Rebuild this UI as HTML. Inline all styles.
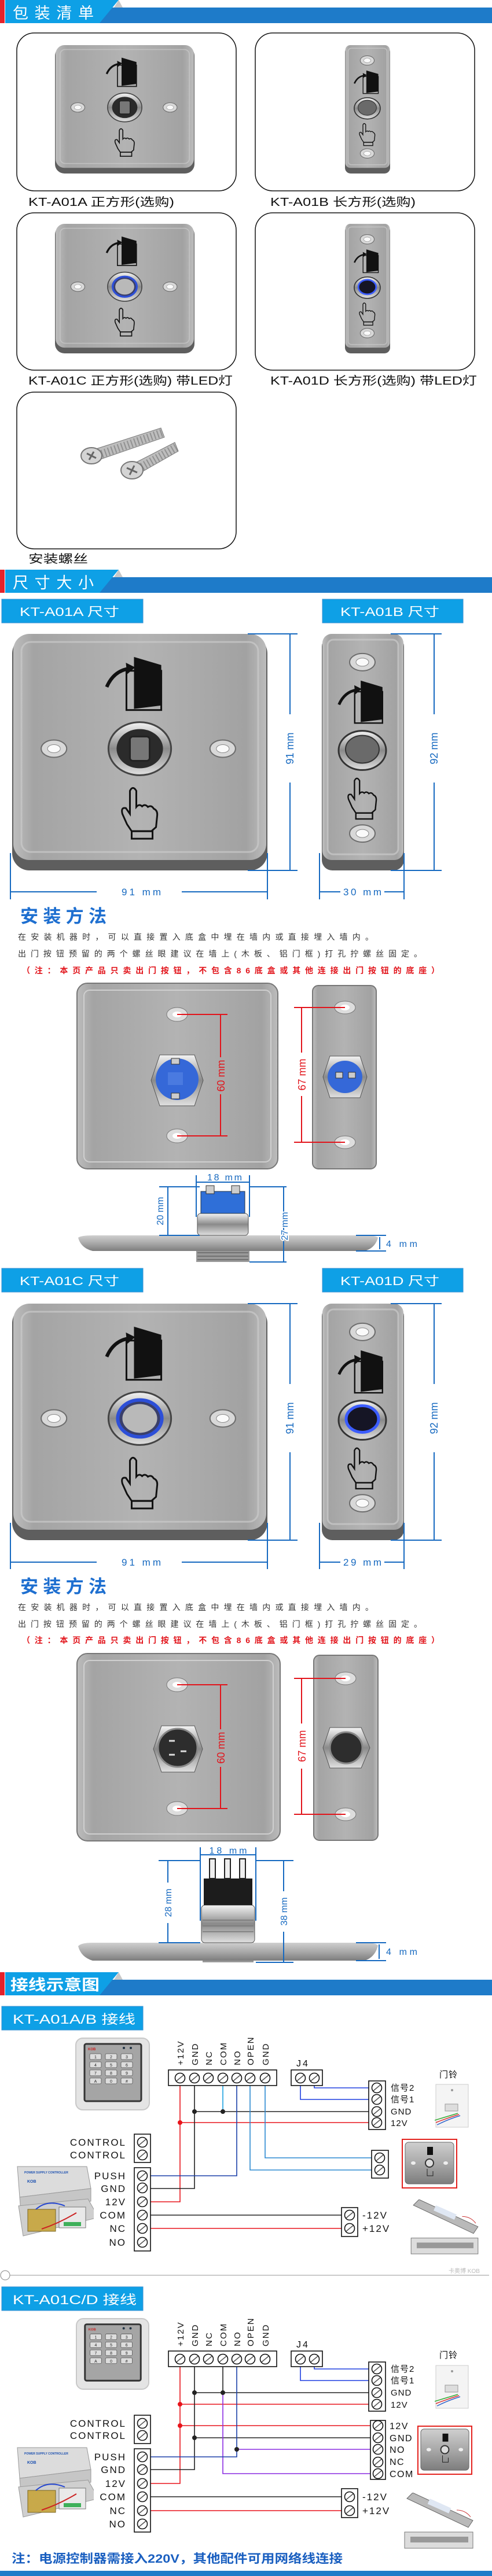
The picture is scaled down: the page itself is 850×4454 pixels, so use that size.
<!DOCTYPE html>
<html><head><meta charset="utf-8"><style>
html,body{margin:0;padding:0;background:#fff;}
svg{display:block;}
text{font-family:"Liberation Sans","Noto Sans CJK SC",sans-serif;}
</style></head><body>
<svg width="850" height="4454" viewBox="0 0 850 4454" xmlns="http://www.w3.org/2000/svg">
<defs>
<linearGradient id="steel" x1="0" y1="0" x2="1" y2="0">
<stop offset="0" stop-color="#bdbdbd"/><stop offset="0.08" stop-color="#a4a4a4"/><stop offset="0.5" stop-color="#b3b3b3"/><stop offset="0.92" stop-color="#a2a2a2"/><stop offset="1" stop-color="#bcbcbc"/>
</linearGradient>
<linearGradient id="steelv" x1="0" y1="0" x2="0" y2="1">
<stop offset="0" stop-color="#cfcfcf"/><stop offset="0.5" stop-color="#a9a9a9"/><stop offset="1" stop-color="#7d7d7d"/>
</linearGradient>
<linearGradient id="chrome" x1="0" y1="0" x2="0" y2="1">
<stop offset="0" stop-color="#f4f4f4"/><stop offset="0.5" stop-color="#8a8a8a"/><stop offset="1" stop-color="#e0e0e0"/>
</linearGradient>
<g id="hole"><ellipse cx="0" cy="0" rx="22" ry="15" fill="#d8d8d8" stroke="#6d6d6d" stroke-width="2"/><ellipse cx="0" cy="0" rx="11" ry="7" fill="#fafafa" stroke="#888"/></g>
<g id="door">
<path d="M163 92 Q175 64 202 60" stroke="#111" stroke-width="6" fill="none"/>
<polygon points="196,50 212,58 198,70" fill="#111"/>
<rect x="197" y="64" width="60" height="68" fill="none" stroke="#111" stroke-width="3"/>
<polygon points="210,40 257,54 257,124 210,130" fill="#111"/>
</g>
<g id="hand">
<path d="M198 330 L190 312 Q187 300 196 302 L203 312 L203 272 Q208 262 214 272 L214 300 Q219 294 224 299 Q229 294 234 300 Q240 296 244 303 Q251 306 250 315 L248 335 L240 342 L206 342 Z" fill="none" stroke="#111" stroke-width="3"/>
<rect x="206" y="342" width="36" height="13" fill="none" stroke="#111" stroke-width="3"/>
</g>
<symbol id="sqbase" viewBox="0 0 440 410" preserveAspectRatio="none">
<rect x="0" y="4" width="440" height="406" rx="30" fill="#5e5e5e"/>
<rect x="2" y="0" width="436" height="392" rx="28" fill="url(#steel)"/>
<rect x="16" y="14" width="408" height="364" rx="16" fill="none" stroke="#cbcbcb" stroke-width="3" opacity="0.7"/>
<use href="#hole" x="72" y="199"/><use href="#hole" x="363" y="199"/>
<use href="#door"/><use href="#hand"/>
</symbol>
<symbol id="sqA" viewBox="0 0 440 410" preserveAspectRatio="none">
<use href="#sqbase" width="440" height="410"/>
<ellipse cx="220" cy="199" rx="54" ry="46" fill="url(#chrome)" stroke="#444" stroke-width="3"/>
<ellipse cx="220" cy="199" rx="40" ry="34" fill="#2b2b2b"/>
<rect x="203" y="178" width="34" height="42" rx="5" fill="#777" stroke="#222" stroke-width="3"/>
</symbol>
<symbol id="sqC" viewBox="0 0 440 410" preserveAspectRatio="none">
<use href="#sqbase" width="440" height="410"/>
<ellipse cx="220" cy="199" rx="54" ry="46" fill="url(#chrome)" stroke="#444" stroke-width="3"/>
<ellipse cx="220" cy="199" rx="38" ry="32" fill="#3a3f6a" stroke="#2d4fd8" stroke-width="6"/>
<ellipse cx="220" cy="199" rx="30" ry="25" fill="#b9b9b9"/>
</symbol>
<symbol id="tlbase" viewBox="0 0 142 410" preserveAspectRatio="none">
<rect x="0" y="4" width="142" height="406" rx="18" fill="#5e5e5e"/>
<rect x="1" y="0" width="140" height="392" rx="16" fill="url(#steel)"/>
<rect x="10" y="10" width="122" height="372" rx="10" fill="none" stroke="#cbcbcb" stroke-width="3" opacity="0.7"/>
<use href="#hole" x="70" y="49"/><use href="#hole" x="70" y="346"/>
<use href="#door" transform="translate(28 81) scale(0.8) translate(-161 -40)"/>
<use href="#hand" transform="translate(46 248) scale(0.8) translate(-190 -264)"/>
</symbol>
<symbol id="tlB" viewBox="0 0 142 410" preserveAspectRatio="none">
<use href="#tlbase" width="142" height="410"/>
<ellipse cx="70" cy="202" rx="41" ry="34" fill="url(#chrome)" stroke="#333" stroke-width="3"/>
<ellipse cx="70" cy="200" rx="29" ry="24" fill="#6a6a6a" stroke="#333" stroke-width="2"/>
</symbol>
<symbol id="tlD" viewBox="0 0 142 410" preserveAspectRatio="none">
<use href="#tlbase" width="142" height="410"/>
<ellipse cx="70" cy="202" rx="41" ry="34" fill="url(#chrome)" stroke="#333" stroke-width="3"/>
<ellipse cx="70" cy="200" rx="28" ry="23" fill="#151525" stroke="#3b5cff" stroke-width="5"/>
</symbol>
<g id="tc"><circle r="8.5" fill="#fff" stroke="#111" stroke-width="1.6"/><line x1="-6" y1="5" x2="6" y2="-5" stroke="#555" stroke-width="1.5"/></g>
<symbol id="keypad" viewBox="0 0 129 126">
<rect x="1" y="1" width="127" height="124" rx="12" fill="#e4e4e4" stroke="#c8c8c8" stroke-width="2"/>
<rect x="16" y="11" width="98" height="99" rx="3" fill="#a5a5a5" stroke="#333" stroke-width="3"/>
<text x="22" y="22" font-size="6" fill="#c22" font-weight="bold">KOB</text>
<circle cx="84" cy="18" r="2" fill="#234"/><circle cx="96" cy="18" r="2" fill="#234"/>
<g fill="#ddd" stroke="#555" stroke-width="0.8">
<rect x="25" y="28" width="20" height="10" rx="2"/><rect x="52" y="28" width="20" height="10" rx="2"/><rect x="79" y="28" width="20" height="10" rx="2"/>
<rect x="25" y="42" width="20" height="10" rx="2"/><rect x="52" y="42" width="20" height="10" rx="2"/><rect x="79" y="42" width="20" height="10" rx="2"/>
<rect x="25" y="56" width="20" height="10" rx="2"/><rect x="52" y="56" width="20" height="10" rx="2"/><rect x="79" y="56" width="20" height="10" rx="2"/>
<rect x="25" y="70" width="20" height="10" rx="2"/><rect x="52" y="70" width="20" height="10" rx="2"/><rect x="79" y="70" width="20" height="10" rx="2"/>
</g>
<g font-size="7" fill="#222" text-anchor="middle"><text x="35" y="36">1</text><text x="62" y="36">2</text><text x="89" y="36">3</text><text x="35" y="50">4</text><text x="62" y="50">5</text><text x="89" y="50">6</text><text x="35" y="64">7</text><text x="62" y="64">8</text><text x="89" y="64">9</text><text x="35" y="78">A</text><text x="62" y="78">0</text><text x="89" y="78">#</text></g>
</symbol>
<symbol id="psu" viewBox="0 0 150 126">
<polygon points="18,2 138,2 145,40 22,55" fill="#dcdcdc" stroke="#999"/>
<polygon points="22,55 145,40 145,62 24,80" fill="#c6c6c6" stroke="#999"/>
<text x="30" y="14" font-size="5" fill="#1a4fb0" font-weight="bold">POWER SUPPLY CONTROLLER</text>
<text x="35" y="30" font-size="7" fill="#1a4fb0" font-weight="bold">KOB</text>
<polygon points="20,70 140,58 158,90 28,122" fill="#cfcfcf" stroke="#999"/>
<rect x="36" y="76" width="48" height="38" fill="#c8a94a" stroke="#7a6520"/>
<rect x="90" y="72" width="46" height="36" fill="#e9e9e9" stroke="#777"/>
<rect x="98" y="98" width="30" height="7" fill="#3fb05a"/>
<path d="M50 76 Q70 58 100 70" stroke="#2345d0" stroke-width="2" fill="none"/>
<path d="M60 110 Q90 100 120 82" stroke="#c22" stroke-width="2" fill="none"/>
</symbol>
<symbol id="bell" viewBox="0 0 60 78">
<rect x="2" y="2" width="56" height="74" fill="#f4f4f4" stroke="#ccc"/>
<circle cx="30" cy="12" r="2" fill="#999"/>
<rect x="18" y="36" width="22" height="12" fill="#ddd" stroke="#999"/>
<path d="M0 64 Q20 58 40 52" stroke="#3a3" stroke-width="1.5" fill="none"/>
<path d="M2 68 Q22 60 42 54" stroke="#d33" stroke-width="1.5" fill="none"/>
<path d="M4 72 Q24 62 44 56" stroke="#36c" stroke-width="1.5" fill="none"/>
</symbol>
<symbol id="exitimg" viewBox="0 0 96 86">
<rect x="1" y="1" width="94" height="84" fill="#fff" stroke="#e3201c" stroke-width="2"/>
<rect x="6" y="6" width="84" height="72" rx="6" fill="url(#steelv)" stroke="#666"/>
<ellipse cx="20" cy="42" rx="4" ry="3" fill="#eee"/><ellipse cx="76" cy="42" rx="4" ry="3" fill="#eee"/>
<rect x="44" y="14" width="10" height="14" fill="#111"/>
<circle cx="48" cy="42" r="7" fill="#ddd" stroke="#333" stroke-width="2"/>
<path d="M44 52 L44 64 L54 64 L54 56" fill="none" stroke="#222"/>
</symbol>
<symbol id="locks" viewBox="0 0 120 100">
<polygon points="4,10 14,0 118,48 110,60" fill="#b9b9b9" stroke="#666"/>
<rect x="40" y="18" width="40" height="10" fill="#dfe7f3" transform="rotate(24 60 23)"/>
<path d="M90 30 Q105 30 114 42" stroke="#c33" fill="none"/>
<rect x="0" y="68" width="118" height="28" fill="#dcdcdc" stroke="#777"/>
<rect x="10" y="76" width="100" height="10" fill="#999"/>
</symbol>
</defs>

<!-- HEADER 1 -->
<rect x="150" y="13" width="700" height="27" fill="#1e7bc9"/>
<polygon points="9,0 205,0 172,40 9,40" fill="#0ea0e6"/>
<polygon points="205,0 212,13 197,13" fill="#c8c8c8"/>
<rect x="0" y="0" width="8" height="40" fill="#e4222a"/>
<text x="22" y="32" font-size="27" fill="#fff" textLength="140" lengthAdjust="spacing">包装清单</text>

<!-- packing boxes -->
<rect x="29" y="57" width="379" height="273" rx="30" fill="#fff" stroke="#111" stroke-width="1.5"/>
<rect x="441" y="57" width="379" height="273" rx="30" fill="#fff" stroke="#111" stroke-width="1.5"/>
<use href="#sqA" x="95" y="78" width="241" height="222"/>
<use href="#tlB" x="596" y="78" width="78" height="222"/>
<text x="49" y="356" font-size="20" fill="#111" textLength="252" lengthAdjust="spacingAndGlyphs">KT-A01A 正方形(选购)</text>
<text x="467" y="356" font-size="20" fill="#111" textLength="251" lengthAdjust="spacingAndGlyphs">KT-A01B 长方形(选购)</text>
<rect x="29" y="368" width="379" height="272" rx="30" fill="#fff" stroke="#111" stroke-width="1.5"/>
<rect x="441" y="368" width="379" height="272" rx="30" fill="#fff" stroke="#111" stroke-width="1.5"/>
<use href="#sqC" x="95" y="387" width="241" height="224"/>
<use href="#tlD" x="596" y="387" width="78" height="224"/>
<text x="49" y="665" font-size="20" fill="#111" textLength="353" lengthAdjust="spacingAndGlyphs">KT-A01C 正方形(选购) 带LED灯</text>
<text x="467" y="665" font-size="20" fill="#111" textLength="357" lengthAdjust="spacingAndGlyphs">KT-A01D 长方形(选购) 带LED灯</text>
<rect x="29" y="678" width="379" height="271" rx="30" fill="#fff" stroke="#111" stroke-width="1.5"/>
<!-- screws -->
<g>
<polygon points="160,778 278,740 284,756 168,796" fill="#bdbdbd" stroke="#777"/>
<line x1="170" y1="787" x2="281" y2="748" stroke="#666" stroke-width="14" stroke-dasharray="2 4" opacity="0.5"/>
<ellipse cx="158" cy="788" rx="18" ry="14" fill="#d4d4d4" stroke="#777" stroke-width="2"/>
<path d="M150 784 L166 792 M154 795 L162 781" stroke="#666" stroke-width="3"/>
<polygon points="230,802 302,765 308,780 238,820" fill="#bdbdbd" stroke="#777"/>
<line x1="240" y1="810" x2="305" y2="773" stroke="#666" stroke-width="14" stroke-dasharray="2 4" opacity="0.5"/>
<ellipse cx="228" cy="813" rx="19" ry="15" fill="#d4d4d4" stroke="#777" stroke-width="2"/>
<path d="M219 809 L237 817 M224 821 L232 805" stroke="#666" stroke-width="3"/>
</g>
<text x="49" y="973" font-size="20" fill="#111" textLength="103" lengthAdjust="spacingAndGlyphs">安装螺丝</text>

<!-- HEADER 2 -->
<rect x="150" y="998" width="700" height="27" fill="#1e7bc9"/>
<polygon points="9,985 205,985 172,1025 9,1025" fill="#0ea0e6"/>
<polygon points="205,985 212,998 197,998" fill="#c8c8c8"/>
<rect x="0" y="985" width="8" height="40" fill="#e4222a"/>
<text x="22" y="1017" font-size="27" fill="#fff" textLength="140" lengthAdjust="spacing">尺寸大小</text>

<!-- subheaders -->
<g font-size="21" fill="#fff">
<rect x="3" y="1036" width="244" height="41" fill="#0ea0e6" stroke="#3a8fd0"/>
<text x="34" y="1065" textLength="172" lengthAdjust="spacingAndGlyphs">KT-A01A 尺寸</text>
<rect x="557" y="1036" width="243" height="41" fill="#0ea0e6" stroke="#3a8fd0"/>
<text x="588" y="1065" textLength="171" lengthAdjust="spacingAndGlyphs">KT-A01B 尺寸</text>
<rect x="3" y="2193" width="244" height="41" fill="#0ea0e6" stroke="#3a8fd0"/>
<text x="34" y="2222" textLength="172" lengthAdjust="spacingAndGlyphs">KT-A01C 尺寸</text>
<rect x="557" y="2193" width="243" height="41" fill="#0ea0e6" stroke="#3a8fd0"/>
<text x="588" y="2222" textLength="171" lengthAdjust="spacingAndGlyphs">KT-A01D 尺寸</text>
</g>

<!-- big plates -->
<use href="#sqA" x="21" y="1096" width="441" height="409"/>
<use href="#tlB" x="556" y="1096" width="142" height="409"/>
<use href="#sqC" x="21" y="2254" width="441" height="409"/>
<use href="#tlD" x="556" y="2254" width="142" height="409"/>

<!-- dimension lines -->
<g stroke="#1669c0" stroke-width="2" fill="none">
<path d="M428 1096 H514 M428 1505 H514 M501 1096 V1235 M501 1353 V1505"/>
<path d="M18 1475 V1555 M462 1475 V1555 M18 1542 H167 M314 1542 H462"/>
<path d="M675 1096 H763 M675 1505 H763 M750 1096 V1235 M750 1353 V1505"/>
<path d="M552 1475 V1555 M698 1475 V1555 M552 1542 H588 M664 1542 H698"/>
<path d="M428 2254 H514 M428 2663 H514 M501 2254 V2393 M501 2511 V2663"/>
<path d="M18 2633 V2713 M462 2633 V2713 M18 2701 H167 M314 2701 H462"/>
<path d="M675 2254 H763 M675 2663 H763 M750 2254 V2393 M750 2511 V2663"/>
<path d="M552 2633 V2713 M698 2633 V2713 M552 2701 H588 M664 2701 H698"/>
</g>
<g fill="#1669c0" font-size="17">
<text x="244" y="1548" text-anchor="middle" textLength="68" lengthAdjust="spacing">91 mm</text>
<text x="626" y="1548" text-anchor="middle" textLength="66" lengthAdjust="spacing">30 mm</text>
<text transform="translate(507 1294) rotate(-90)" text-anchor="middle" font-size="18">91 mm</text>
<text transform="translate(756 1294) rotate(-90)" text-anchor="middle" font-size="18">92 mm</text>
<text x="244" y="2707" text-anchor="middle" textLength="68" lengthAdjust="spacing">91 mm</text>
<text x="626" y="2707" text-anchor="middle" textLength="66" lengthAdjust="spacing">29 mm</text>
<text transform="translate(507 2452) rotate(-90)" text-anchor="middle" font-size="18">91 mm</text>
<text transform="translate(756 2452) rotate(-90)" text-anchor="middle" font-size="18">92 mm</text>
</g>

<!-- install text 1 -->
<text x="35" y="1595" font-size="31" font-weight="bold" fill="#1e6fd0" textLength="149" lengthAdjust="spacing">安装方法</text>
<text x="31" y="1625" font-size="14" fill="#333" textLength="614" lengthAdjust="spacing">在安装机器时，可以直接置入底盒中埋在墙内或直接埋入墙内。</text>
<text x="31" y="1654" font-size="14" fill="#333" textLength="698" lengthAdjust="spacing">出门按钮预留的两个螺丝眼建议在墙上(木板、铝门框)打孔拧螺丝固定。</text>
<text x="38" y="1683" font-size="14" font-weight="bold" fill="#e2141b" textLength="721" lengthAdjust="spacing">（注：本页产品只卖出门按钮，不包含86底盒或其他连接出门按钮的底座）</text>
<!-- install text 2 -->
<text x="35" y="2754" font-size="31" font-weight="bold" fill="#1e6fd0" textLength="149" lengthAdjust="spacing">安装方法</text>
<text x="31" y="2784" font-size="14" fill="#333" textLength="614" lengthAdjust="spacing">在安装机器时，可以直接置入底盒中埋在墙内或直接埋入墙内。</text>
<text x="31" y="2813" font-size="14" fill="#333" textLength="698" lengthAdjust="spacing">出门按钮预留的两个螺丝眼建议在墙上(木板、铝门框)打孔拧螺丝固定。</text>
<text x="38" y="2841" font-size="14" font-weight="bold" fill="#e2141b" textLength="721" lengthAdjust="spacing">（注：本页产品只卖出门按钮，不包含86底盒或其他连接出门按钮的底座）</text>

<!-- back plates A -->
<rect x="133" y="1700" width="347" height="321" rx="18" fill="url(#steel)" stroke="#777" stroke-width="2"/>
<rect x="145" y="1712" width="323" height="297" rx="10" fill="none" stroke="#cfcfcf" stroke-width="2"/>
<ellipse cx="306" cy="1754" rx="18" ry="12" fill="#ddd" stroke="#777"/><ellipse cx="306" cy="1754" rx="8" ry="5" fill="#fff"/>
<ellipse cx="306" cy="1964" rx="18" ry="12" fill="#ddd" stroke="#777"/><ellipse cx="306" cy="1964" rx="8" ry="5" fill="#fff"/>
<polygon points="261,1868 276,1824 336,1824 351,1868 336,1912 276,1912" fill="url(#chrome)" stroke="#555"/>
<ellipse cx="306" cy="1866" rx="37" ry="36" fill="#3568d8"/>
<rect x="296" y="1830" width="14" height="10" fill="#ccc" stroke="#333"/><rect x="296" y="1890" width="14" height="10" fill="#ccc" stroke="#333"/>
<rect x="290" y="1854" width="26" height="22" fill="#4a7ae0"/>
<rect x="540" y="1704" width="110" height="317" rx="10" fill="url(#steel)" stroke="#777" stroke-width="2"/>
<ellipse cx="596" cy="1742" rx="18" ry="11" fill="#ddd" stroke="#777"/><ellipse cx="596" cy="1742" rx="8" ry="5" fill="#fff"/>
<ellipse cx="596" cy="1975" rx="18" ry="11" fill="#ddd" stroke="#777"/><ellipse cx="596" cy="1975" rx="8" ry="5" fill="#fff"/>
<polygon points="558,1862 570,1826 622,1826 634,1862 622,1898 570,1898" fill="url(#chrome)" stroke="#555"/>
<ellipse cx="596" cy="1862" rx="30" ry="28" fill="#3568d8"/>
<rect x="580" y="1854" width="12" height="10" fill="#ccc" stroke="#333"/><rect x="602" y="1854" width="12" height="10" fill="#ccc" stroke="#333"/>
<g stroke="#e2141b" stroke-width="2" fill="none">
<path d="M306 1754 H393 M306 1964 H393 M381 1754 V1828 M381 1892 V1964"/>
<path d="M508 1742 H596 M508 1975 H596 M521 1742 V1820 M521 1895 V1975"/>
</g>
<g fill="#e2141b" font-size="18">
<text transform="translate(388 1860) rotate(-90)" text-anchor="middle">60 mm</text>
<text transform="translate(528 1858) rotate(-90)" text-anchor="middle">67 mm</text>
</g>

<!-- side view A -->
<rect x="339" y="2150" width="92" height="32" fill="#999"/>
<g stroke="#666" stroke-width="1.5"><line x1="341" y1="2166" x2="429" y2="2166"/><line x1="341" y1="2172" x2="429" y2="2172"/><line x1="341" y1="2178" x2="429" y2="2178"/></g>
<path d="M135 2140 Q140 2136 160 2136 L630 2136 Q650 2136 653 2140 Q648 2158 630 2163 L160 2163 Q140 2158 135 2140 Z" fill="url(#steelv)"/>
<rect x="341" y="2098" width="88" height="38" rx="6" fill="url(#chrome)" stroke="#555"/>
<rect x="347" y="2060" width="76" height="38" fill="#2f6fd8" stroke="#234"/>
<rect x="356" y="2050" width="14" height="14" fill="#ccc" stroke="#333"/><rect x="400" y="2050" width="14" height="14" fill="#ccc" stroke="#333"/>
<g stroke="#1669c0" stroke-width="2" fill="none">
<path d="M339 2032 V2104 M431 2032 V2104 M339 2044 H431"/>
<path d="M275 2052 H345 M275 2136 H345 M290 2052 V2136"/>
<path d="M431 2052 H495 M431 2182 H495 M490 2052 V2182"/>
<path d="M615 2136 H667 M615 2163 H667 M656 2139 V2160"/>
</g>
<g fill="#1669c0" font-size="16">
<text x="388" y="2041" text-anchor="middle" textLength="60" lengthAdjust="spacing">18 mm</text>
<text transform="translate(282 2094) rotate(-90)" text-anchor="middle">20 mm</text>
<text transform="translate(497 2120) rotate(-90)" text-anchor="middle" style="paint-order:stroke" stroke="#fff" stroke-width="4">27 mm</text>
<text x="667" y="2156" textLength="54" lengthAdjust="spacing">4 mm</text>
</g>

<!-- back plates C -->
<rect x="133" y="2859" width="351" height="324" rx="18" fill="url(#steel)" stroke="#777" stroke-width="2"/>
<rect x="145" y="2871" width="327" height="300" rx="10" fill="none" stroke="#cfcfcf" stroke-width="2"/>
<ellipse cx="306" cy="2913" rx="18" ry="12" fill="#ddd" stroke="#777"/><ellipse cx="306" cy="2913" rx="8" ry="5" fill="#fff"/>
<ellipse cx="306" cy="3127" rx="18" ry="12" fill="#ddd" stroke="#777"/><ellipse cx="306" cy="3127" rx="8" ry="5" fill="#fff"/>
<polygon points="265,3024 279,2984 336,2984 350,3024 336,3064 279,3064" fill="url(#chrome)" stroke="#555"/>
<ellipse cx="307" cy="3022" rx="34" ry="33" fill="#2d2d2d" stroke="#888" stroke-width="3"/>
<g stroke="#ddd" stroke-width="3"><line x1="292" y1="3010" x2="302" y2="3010"/><line x1="312" y1="3028" x2="322" y2="3028"/><line x1="292" y1="3034" x2="302" y2="3034"/></g>
<rect x="542" y="2862" width="111" height="320" rx="10" fill="url(#steel)" stroke="#777" stroke-width="2"/>
<ellipse cx="597" cy="2902" rx="18" ry="11" fill="#ddd" stroke="#777"/><ellipse cx="597" cy="2902" rx="8" ry="5" fill="#fff"/>
<ellipse cx="597" cy="3137" rx="18" ry="11" fill="#ddd" stroke="#777"/><ellipse cx="597" cy="3137" rx="8" ry="5" fill="#fff"/>
<polygon points="558,3022 570,2987 624,2987 639,3022 624,3057 570,3057" fill="url(#chrome)" stroke="#555"/>
<ellipse cx="598" cy="3022" rx="28" ry="27" fill="#2d2d2d" stroke="#888" stroke-width="3"/>
<g stroke="#e2141b" stroke-width="2" fill="none">
<path d="M306 2913 H393 M306 3127 H393 M381 2913 V2990 M381 3055 V3127"/>
<path d="M508 2902 H597 M508 3137 H597 M521 2902 V2980 M521 3058 V3137"/>
</g>
<g fill="#e2141b" font-size="18">
<text transform="translate(388 3022) rotate(-90)" text-anchor="middle">60 mm</text>
<text transform="translate(528 3019) rotate(-90)" text-anchor="middle">67 mm</text>
</g>
<!-- side view C -->
<rect x="350" y="3350" width="88" height="43" fill="#999"/>
<path d="M135 3365 Q140 3359 160 3359 L630 3359 Q650 3359 653 3364 Q648 3384 630 3390 L160 3390 Q140 3384 135 3365 Z" fill="url(#steelv)"/>
<rect x="348" y="3294" width="92" height="65" rx="6" fill="url(#chrome)" stroke="#555"/>
<g stroke="#777" stroke-width="1.5"><line x1="350" y1="3320" x2="438" y2="3320"/><line x1="350" y1="3330" x2="438" y2="3330"/><line x1="350" y1="3340" x2="438" y2="3340"/></g>
<rect x="352" y="3248" width="84" height="46" fill="#1c1c1c"/>
<rect x="362" y="3214" width="10" height="34" fill="#eee" stroke="#222" stroke-width="2"/>
<rect x="388" y="3214" width="10" height="34" fill="#eee" stroke="#222" stroke-width="2"/>
<rect x="414" y="3214" width="10" height="34" fill="#eee" stroke="#222" stroke-width="2"/>
<g stroke="#1669c0" stroke-width="2" fill="none">
<path d="M346 3194 V3321 M442 3194 V3321 M346 3207 H442"/>
<path d="M274 3217 H346 M274 3359 H346 M290 3217 V3255 M290 3325 V3359"/>
<path d="M442 3217 H507 M442 3393 H507 M490 3217 V3270 M490 3340 V3393"/>
<path d="M615 3359 H667 M615 3390 H667 M655 3362 V3387"/>
</g>
<g fill="#1669c0" font-size="16">
<text x="394" y="3205" text-anchor="middle" textLength="65" lengthAdjust="spacing">18 mm</text>
<text transform="translate(296 3290) rotate(-90)" text-anchor="middle">28 mm</text>
<text transform="translate(496 3305) rotate(-90)" text-anchor="middle">38 mm</text>
<text x="667" y="3380" textLength="54" lengthAdjust="spacing">4 mm</text>
</g>

<!-- HEADER 3 -->
<rect x="150" y="3423" width="700" height="27" fill="#1e7bc9"/>
<polygon points="9,3410 205,3410 172,3450 9,3450" fill="#0ea0e6"/>
<polygon points="205,3410 212,3423 197,3423" fill="#c8c8c8"/>
<rect x="0" y="3410" width="8" height="40" fill="#e4222a"/>
<text x="18" y="3441" font-size="26" font-weight="bold" fill="#fff" textLength="154" lengthAdjust="spacingAndGlyphs">接线示意图</text>

<rect x="3" y="3469" width="244" height="41" fill="#0ea0e6" stroke="#3a8fd0"/>
<text x="22" y="3499" font-size="22" fill="#fff" textLength="212" lengthAdjust="spacingAndGlyphs">KT-A01A/B  接线</text>
<rect x="3" y="3954" width="244" height="41" fill="#0ea0e6" stroke="#3a8fd0"/>
<text x="22" y="3984" font-size="22" fill="#fff" textLength="214" lengthAdjust="spacingAndGlyphs">KT-A01C/D  接线</text>

<!-- ===== WIRING A ===== -->
<use href="#keypad" x="130" y="3523" width="129" height="126"/>
<use href="#psu" x="12" y="3744" width="150" height="126"/>
<use href="#bell" x="751" y="3602" width="60" height="78"/>
<use href="#exitimg" x="694" y="3698" width="96" height="86"/>
<use href="#locks" x="708" y="3803" width="122" height="98"/>
<g fill="none" stroke-width="1.6">
<path d="M311 3606 V3807 H260 M311 3670 H637" stroke="#e8141b"/>
<path d="M336 3606 V3784 H260 M336 3651 H637 M260 3830 H590" stroke="#222"/>
<path d="M385 3606 V3651" stroke="#1aa0e0"/>
<path d="M409 3606 V3762 H260" stroke="#1a3fa8"/>
<path d="M432 3606 V3752 H642 M458 3606 V3731 H642" stroke="#2a88d0"/>
<path d="M543 3606 V3610 H637 M519 3606 V3630 H637" stroke="#1f3fe0"/>
<path d="M260 3853 H590" stroke="#e8141b"/>
</g>
<circle cx="336" cy="3651" r="4" fill="#222"/><circle cx="385" cy="3651" r="4" fill="#222"/><circle cx="311" cy="3670" r="4" fill="#e8141b"/>
<rect x="291" y="3579" width="187" height="27" fill="#fff" stroke="#111" stroke-width="1.6"/>
<use href="#tc" x="311" y="3593"/><use href="#tc" x="336" y="3593"/><use href="#tc" x="360" y="3593"/><use href="#tc" x="385" y="3593"/><use href="#tc" x="409" y="3593"/><use href="#tc" x="432" y="3593"/><use href="#tc" x="458" y="3593"/>
<g font-size="15" fill="#111" letter-spacing="2">
<text transform="translate(317 3571) rotate(-90)">+12V</text>
<text transform="translate(342 3571) rotate(-90)">GND</text>
<text transform="translate(366 3571) rotate(-90)">NC</text>
<text transform="translate(391 3571) rotate(-90)">COM</text>
<text transform="translate(415 3571) rotate(-90)">NO</text>
<text transform="translate(438 3571) rotate(-90)">OPEN</text>
<text transform="translate(464 3571) rotate(-90)">GND</text>
</g>
<text x="512" y="3573" font-size="16" fill="#111" letter-spacing="3">J4</text>
<rect x="503" y="3579" width="54" height="27" fill="#fff" stroke="#111" stroke-width="1.6"/>
<use href="#tc" x="519" y="3593"/><use href="#tc" x="543" y="3593"/>
<rect x="637" y="3598" width="29" height="84" fill="#fff" stroke="#111" stroke-width="1.6"/>
<use href="#tc" x="651" y="3610"/><use href="#tc" x="651" y="3630"/><use href="#tc" x="651" y="3651"/><use href="#tc" x="651" y="3670"/>
<g font-size="15" fill="#111" letter-spacing="1">
<text x="675" y="3615">信号2</text><text x="675" y="3635">信号1</text><text x="675" y="3656">GND</text><text x="675" y="3676">12V</text>
<text x="759" y="3592">门铃</text>
</g>
<rect x="642" y="3718" width="29" height="48" fill="#fff" stroke="#111" stroke-width="1.6"/>
<use href="#tc" x="656" y="3731"/><use href="#tc" x="656" y="3752"/>
<rect x="590" y="3817" width="28" height="50" fill="#fff" stroke="#111" stroke-width="1.6"/>
<use href="#tc" x="604" y="3830"/><use href="#tc" x="604" y="3853"/>
<g font-size="17" fill="#111" letter-spacing="2"><text x="626" y="3836">-12V</text><text x="626" y="3859">+12V</text></g>
<rect x="232" y="3690" width="28" height="49" fill="#fff" stroke="#111" stroke-width="1.6"/>
<use href="#tc" x="246" y="3704"/><use href="#tc" x="246" y="3726"/>
<rect x="232" y="3748" width="28" height="144" fill="#fff" stroke="#111" stroke-width="1.6"/>
<use href="#tc" x="246" y="3762"/><use href="#tc" x="246" y="3783"/><use href="#tc" x="246" y="3807"/><use href="#tc" x="246" y="3830"/><use href="#tc" x="246" y="3853"/><use href="#tc" x="246" y="3877"/>
<g font-size="17" fill="#111" text-anchor="end" letter-spacing="2">
<text x="218" y="3710">CONTROL</text><text x="218" y="3732">CONTROL</text>
<text x="218" y="3768">PUSH</text><text x="218" y="3790">GND</text><text x="218" y="3813">12V</text><text x="218" y="3836">COM</text><text x="218" y="3859">NC</text><text x="218" y="3883">NO</text>
</g>

<!-- divider -->
<line x1="16" y1="3934" x2="845" y2="3934" stroke="#aaa" stroke-width="1.2"/>
<circle cx="9" cy="3934" r="8" fill="#fff" stroke="#999" stroke-width="1.2"/>
<text x="775" y="3930" font-size="10" fill="#bbb">卡奥博 KOB</text>

<!-- ===== WIRING B ===== -->
<use href="#keypad" x="130" y="4008" width="129" height="124"/>
<use href="#psu" x="12" y="4230" width="150" height="126"/>
<use href="#bell" x="751" y="4088" width="60" height="78"/>
<use href="#exitimg" x="721" y="4193" width="95" height="87"/>
<use href="#locks" x="692" y="4310" width="134" height="100"/>
<g fill="none" stroke-width="1.6">
<path d="M311 4092 V4294 H260 M311 4157 H637 M311 4194 H640" stroke="#e8141b"/>
<path d="M336 4092 V4270 H260 M336 4137 H637 M336 4215 H640 M385 4092 V4137 M260 4317 H590" stroke="#222"/>
<path d="M385 4137 V4277 H640 M409 4235 H640" stroke="#8a2be2"/>
<path d="M409 4092 V4248 H260" stroke="#1a3fa8"/>
<path d="M543 4092 V4096 H637 M519 4092 V4116 H637" stroke="#1f3fe0"/>
<path d="M260 4341 H590" stroke="#e8141b"/>
</g>
<circle cx="336" cy="4137" r="4" fill="#222"/><circle cx="385" cy="4137" r="4" fill="#222"/><circle cx="311" cy="4157" r="4" fill="#e8141b"/>
<circle cx="311" cy="4194" r="4" fill="#e8141b"/><circle cx="336" cy="4215" r="4" fill="#222"/><circle cx="409" cy="4235" r="4" fill="#222"/>
<rect x="291" y="4065" width="187" height="27" fill="#fff" stroke="#111" stroke-width="1.6"/>
<use href="#tc" x="311" y="4079"/><use href="#tc" x="336" y="4079"/><use href="#tc" x="360" y="4079"/><use href="#tc" x="385" y="4079"/><use href="#tc" x="409" y="4079"/><use href="#tc" x="432" y="4079"/><use href="#tc" x="458" y="4079"/>
<g font-size="15" fill="#111" letter-spacing="2">
<text transform="translate(317 4057) rotate(-90)">+12V</text>
<text transform="translate(342 4057) rotate(-90)">GND</text>
<text transform="translate(366 4057) rotate(-90)">NC</text>
<text transform="translate(391 4057) rotate(-90)">COM</text>
<text transform="translate(415 4057) rotate(-90)">NO</text>
<text transform="translate(438 4057) rotate(-90)">OPEN</text>
<text transform="translate(464 4057) rotate(-90)">GND</text>
</g>
<text x="512" y="4059" font-size="16" fill="#111" letter-spacing="3">J4</text>
<rect x="503" y="4065" width="54" height="27" fill="#fff" stroke="#111" stroke-width="1.6"/>
<use href="#tc" x="519" y="4079"/><use href="#tc" x="543" y="4079"/>
<rect x="637" y="4084" width="29" height="85" fill="#fff" stroke="#111" stroke-width="1.6"/>
<use href="#tc" x="651" y="4096"/><use href="#tc" x="651" y="4116"/><use href="#tc" x="651" y="4137"/><use href="#tc" x="651" y="4157"/>
<g font-size="15" fill="#111" letter-spacing="1">
<text x="675" y="4101">信号2</text><text x="675" y="4121">信号1</text><text x="675" y="4142">GND</text><text x="675" y="4163">12V</text>
<text x="759" y="4077">门铃</text>
</g>
<rect x="640" y="4185" width="26" height="102" fill="#fff" stroke="#111" stroke-width="1.6"/>
<use href="#tc" x="653" y="4194"/><use href="#tc" x="653" y="4215"/><use href="#tc" x="653" y="4235"/><use href="#tc" x="653" y="4257"/><use href="#tc" x="653" y="4277"/>
<g font-size="16" fill="#111" letter-spacing="1.5">
<text x="673" y="4200">12V</text><text x="673" y="4221">GND</text><text x="673" y="4241">NO</text><text x="673" y="4262">NC</text><text x="673" y="4283">COM</text>
</g>
<rect x="590" y="4303" width="28" height="50" fill="#fff" stroke="#111" stroke-width="1.6"/>
<use href="#tc" x="604" y="4317"/><use href="#tc" x="604" y="4341"/>
<g font-size="17" fill="#111" letter-spacing="2"><text x="626" y="4323">-12V</text><text x="626" y="4347">+12V</text></g>
<rect x="232" y="4176" width="28" height="49" fill="#fff" stroke="#111" stroke-width="1.6"/>
<use href="#tc" x="246" y="4190"/><use href="#tc" x="246" y="4211"/>
<rect x="232" y="4234" width="28" height="144" fill="#fff" stroke="#111" stroke-width="1.6"/>
<use href="#tc" x="246" y="4248"/><use href="#tc" x="246" y="4270"/><use href="#tc" x="246" y="4294"/><use href="#tc" x="246" y="4317"/><use href="#tc" x="246" y="4341"/><use href="#tc" x="246" y="4364"/>
<g font-size="17" fill="#111" text-anchor="end" letter-spacing="2">
<text x="218" y="4196">CONTROL</text><text x="218" y="4217">CONTROL</text>
<text x="218" y="4254">PUSH</text><text x="218" y="4276">GND</text><text x="218" y="4300">12V</text><text x="218" y="4323">COM</text><text x="218" y="4347">NC</text><text x="218" y="4370">NO</text>
</g>

<text x="20" y="4431" font-size="21" font-weight="bold" fill="#1a5fc0" textLength="572" lengthAdjust="spacingAndGlyphs">注：电源控制器需接入220V，其他配件可用网络线连接</text>
<rect x="0" y="4445" width="850" height="9" fill="#1e7bc9"/>
</svg>
</body></html>
